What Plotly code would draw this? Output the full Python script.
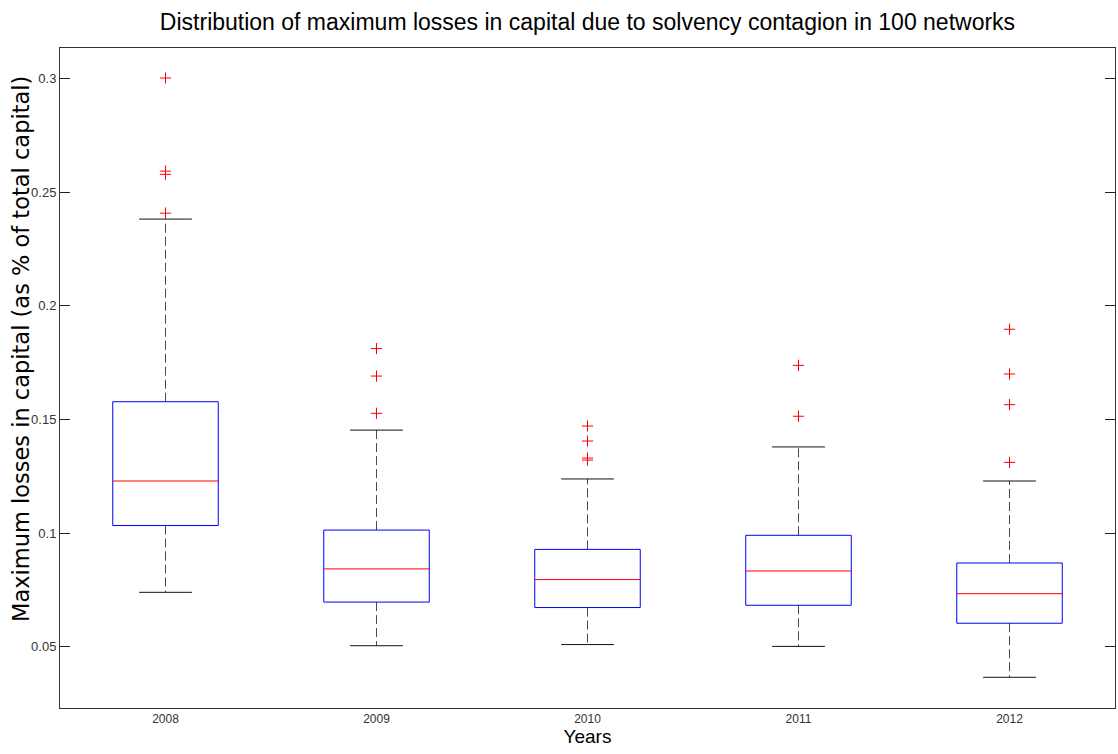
import plotly.graph_objects as go

# Boxplot summary per year (fraction of total capital)
years = ["2008", "2009", "2010", "2011", "2012"]
q1 = [0.1033, 0.0696, 0.0672, 0.0682, 0.0603]
median = [0.1229, 0.0842, 0.0795, 0.0833, 0.0733]
q3 = [0.1578, 0.1013, 0.0928, 0.0990, 0.0868]
whisker_low = [0.0739, 0.0504, 0.0509, 0.0501, 0.0365]
whisker_high = [0.2382, 0.1453, 0.1238, 0.1379, 0.1229]
outliers = [
    [0.3003, 0.2593, 0.2579, 0.2408],
    [0.1812, 0.1691, 0.1527],
    [0.1471, 0.1405, 0.1330, 0.1321],
    [0.1738, 0.1514],
    [0.1897, 0.1700, 0.1565, 0.1311],
]
y_ticks = [0.05, 0.1, 0.15, 0.2, 0.25, 0.3]

BOX_HALF = 0.25
CAP_HALF = 0.125
positions = list(range(1, len(years) + 1))

box_x, box_y = [], []
med_x, med_y = [], []
wsk_x, wsk_y = [], []
cap_x, cap_y = [], []
out_x, out_y = [], []
for p, a, m, b, lo, hi, outs in zip(positions, q1, median, q3,
                                    whisker_low, whisker_high, outliers):
    box_x += [p - BOX_HALF, p + BOX_HALF, p + BOX_HALF, p - BOX_HALF, p - BOX_HALF, None]
    box_y += [a, a, b, b, a, None]
    med_x += [p - BOX_HALF, p + BOX_HALF, None]
    med_y += [m, m, None]
    wsk_x += [p, p, None, p, p, None]
    wsk_y += [b, hi, None, a, lo, None]
    cap_x += [p - CAP_HALF, p + CAP_HALF, None, p - CAP_HALF, p + CAP_HALF, None]
    cap_y += [hi, hi, None, lo, lo, None]
    out_x += [p] * len(outs)
    out_y += outs

fig = go.Figure()
fig.add_trace(go.Scatter(x=wsk_x, y=wsk_y, mode="lines",
                         line=dict(color="#4a4a4a", width=1, dash="9px,4px"),
                         hoverinfo="skip"))
fig.add_trace(go.Scatter(x=cap_x, y=cap_y, mode="lines",
                         line=dict(color="#111111", width=1), hoverinfo="skip"))
fig.add_trace(go.Scatter(x=box_x, y=box_y, mode="lines",
                         line=dict(color="#0000ff", width=1), hoverinfo="skip"))
fig.add_trace(go.Scatter(x=med_x, y=med_y, mode="lines",
                         line=dict(color="#ff0000", width=1), hoverinfo="skip"))
fig.add_trace(go.Scatter(x=out_x, y=out_y, mode="markers",
                         marker=dict(symbol="cross-thin", size=8,
                                     line=dict(color="#ff0000", width=1)),
                         hoverinfo="skip"))

narrow = "Liberation Sans Narrow, Arial Narrow, Liberation Sans, Arial, sans-serif"

fig.update_layout(
    width=1118, height=754,
    margin=dict(l=60, r=3, t=48, b=46),
    paper_bgcolor="white", plot_bgcolor="white",
    showlegend=False,
    title=dict(text="Distribution of maximum losses in capital due to solvency contagion in 100 networks",
               x=(60 + 1115) / 2 / 1118, xanchor="center",
               y=1 - 22 / 754, yanchor="middle",
               font=dict(family="Liberation Sans, Arial, sans-serif", size=23, color="black")),
    xaxis=dict(range=[0.5, len(years) + 0.5], tickvals=positions, ticktext=years,
               showgrid=False, zeroline=False, showline=True, linecolor="#333333",
               linewidth=1, mirror=True, ticks="",
               tickfont=dict(family=narrow, size=12, color="#333333"),
               title=dict(text="Years", standoff=4,
                          font=dict(family="Liberation Sans, Arial, sans-serif", size=19, color="black"))),
    yaxis=dict(range=[0.02298, 0.3135], tickvals=y_ticks,
               ticktext=[f"{v:g}" for v in y_ticks],
               showgrid=False, zeroline=False, showline=True, linecolor="#333333",
               linewidth=1, mirror="ticks", ticks="inside", ticklen=10,
               tickcolor="#222222",
               tickfont=dict(family=narrow, size=13, color="#333333")),
)

fig.add_annotation(text="Maximum losses in capital (as % of total capital)",
                   xref="paper", yref="paper", x=0, xshift=-39, y=(708 - 349) / 660,
                   xanchor="center", yanchor="middle", textangle=-90, showarrow=False,
                   font=dict(family="DejaVu Sans, sans-serif", size=22.5, color="black"))

fig.write_html("out.html")
